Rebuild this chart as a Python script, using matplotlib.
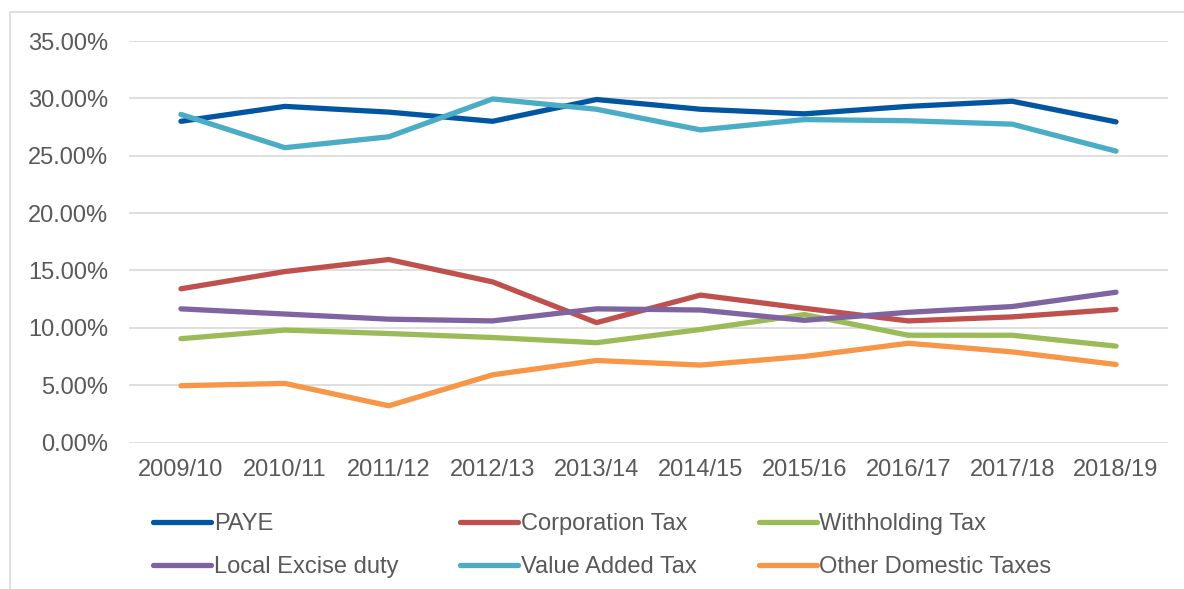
import matplotlib.pyplot as plt
from matplotlib.patches import Rectangle
from matplotlib.ticker import FuncFormatter

plt.rcParams['font.family'] = ['Liberation Sans', 'DejaVu Sans']

# data (share of domestic tax revenue, %)
years = ['2009/10', '2010/11', '2011/12', '2012/13', '2013/14',
         '2014/15', '2015/16', '2016/17', '2017/18', '2018/19']
paye = [28.0, 29.3, 28.8, 28.0, 29.9, 29.05, 28.65, 29.3, 29.75, 27.95]
corporation = [13.4, 14.9, 15.95, 14.0, 10.45, 12.85, 11.7, 10.6, 10.95, 11.6]
withholding = [9.05, 9.8, 9.5, 9.15, 8.7, 9.85, 11.15, 9.35, 9.35, 8.4]
local_excise = [11.65, 11.2, 10.75, 10.6, 11.65, 11.55, 10.65, 11.35, 11.85, 13.1]
vat = [28.6, 25.7, 26.65, 29.95, 29.05, 27.25, 28.15, 28.05, 27.75, 25.4]
other_domestic = [4.95, 5.15, 3.2, 5.9, 7.15, 6.75, 7.5, 8.65, 7.9, 6.8]

series = [
    ('PAYE', paye, '#0256A1'),
    ('Corporation Tax', corporation, '#C0504D'),
    ('Withholding Tax', withholding, '#9BBB59'),
    ('Local Excise duty', local_excise, '#8064A2'),
    ('Value Added Tax', vat, '#4BACC6'),
    ('Other Domestic Taxes', other_domestic, '#F79646'),
]

W, H = 1184, 589
fig = plt.figure(figsize=(W / 100, H / 100), dpi=100)
ax = fig.add_axes([129 / W, 1 - 442.5 / H, (1168 - 129) / W, (442.5 - 41) / H])

# chart frame (only the left and top edges are visible)
fig.patches.append(Rectangle((10 / W, -0.5), 2, 1.5 - 12 / H, transform=fig.transFigure,
                             fill=False, edgecolor='#D9D9D9', linewidth=1.2))

x = list(range(len(years)))
handles = {}
for name, vals, col in series:
    ln, = ax.plot(x, vals, color=col, linewidth=3.8, solid_capstyle='round',
                  solid_joinstyle='round', label=name)
    handles[name] = ln

ax.set_xlim(-0.5, len(years) - 0.5)
ax.set_ylim(0, 35)
ax.set_yticks(range(0, 36, 5))
ax.yaxis.set_major_formatter(FuncFormatter(lambda v, p: f'{v:.2f}%'))
ax.set_xticks(x)
ax.set_xticklabels(years)
ax.grid(axis='y', color='#D9D9D9', linewidth=1.2)
ax.set_axisbelow(True)
for s in ax.spines.values():
    s.set_visible(False)
ax.tick_params(axis='both', length=0, labelsize=17, labelcolor='#595959')
ax.tick_params(axis='y', pad=15)
ax.tick_params(axis='x', pad=12)

# legend order so rows read PAYE / Corporation / Withholding, then the rest
order = ['PAYE', 'Local Excise duty', 'Corporation Tax', 'Value Added Tax',
         'Withholding Tax', 'Other Domestic Taxes']
fig.legend([handles[n] for n in order], order, loc='center left',
           bbox_to_anchor=(153 / W, 1 - 545.5 / H), ncol=3, frameon=False,
           fontsize=17, labelcolor='#595959', handlelength=2.45, handletextpad=0.12,
           columnspacing=2.63, labelspacing=0.9, borderpad=0, borderaxespad=0)

fig.savefig('out.png', dpi=100)
